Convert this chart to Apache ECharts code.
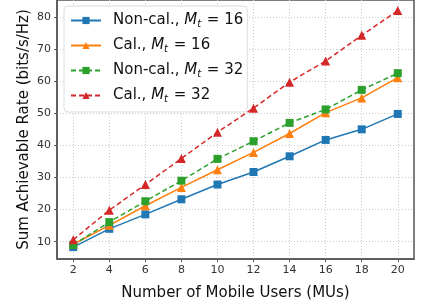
<!DOCTYPE html>
<html>
<head>
<meta charset="utf-8">
<title>Sum rate vs number of MUs</title>
<script src="https://cdn.jsdelivr.net/npm/echarts@6/dist/echarts.min.js"></script>
<style>
  html, body { margin: 0; padding: 0; background: #fff; }
  #main { width: 423px; height: 306px; }
</style>
</head>
<body>
<div id="main"></div>
<script>
// number of MUs
var users = [2, 4, 6, 8, 10, 12, 14, 16, 18, 20];
// sum achievable rate (bits/s/Hz)
var nonCal16 = [8.3, 14.0, 18.5, 23.2, 27.8, 31.7, 36.6, 41.7, 45.0, 49.8];
var cal16    = [9.2, 15.1, 21.2, 26.9, 32.4, 37.8, 43.7, 50.2, 54.8, 61.1];
var nonCal32 = [9.0, 16.1, 22.6, 29.0, 35.8, 41.3, 47.0, 51.2, 57.3, 62.5];
var cal32    = [10.6, 19.8, 27.8, 35.9, 44.1, 51.6, 59.7, 66.3, 74.3, 82.0];
var xTicks = [2, 4, 6, 8, 10, 12, 14, 16, 18, 20];
var yTicks = [10, 20, 30, 40, 50, 60, 70, 80];

var font = 'DejaVu Sans';
var myChart = echarts.init(document.getElementById('main'));

function pairs(vals) {
    var out = [];
    for (var i = 0; i < users.length; i++) {
        out.push([users[i], vals[i]]);
    }
    return out;
}

function mkSeries(name, vals, color, dashed, symbol) {
    return {
        name: name,
        type: 'line',
        data: pairs(vals),
        symbol: symbol,
        symbolSize: symbol === 'rect' ? 8 : 9,
        lineStyle: { color: color, width: 1.5, type: dashed ? [5, 3] : 'solid' },
        itemStyle: { color: color },
        animation: false
    };
}

var option = {
    backgroundColor: '#fff',
    grid: {
        left: 57, right: 9, top: 0, bottom: 41,
        show: true, borderColor: '#555', borderWidth: 1.5
    },
    legend: {
        orient: 'vertical',
        left: 64, top: 6,
        padding: [7, 4, 8, 6],
        itemWidth: 30, itemHeight: 9,
        itemGap: 9,
        backgroundColor: '#fff',
        borderColor: '#ddd', borderWidth: 1, borderRadius: 4,
        data: ['nc16', 'c16', 'nc32', 'c32'],
        formatter: function (name) {
            var map = {
                nc16: ['Non-cal., ', '16'],
                c16: ['Cal., ', '16'],
                nc32: ['Non-cal., ', '32'],
                c32: ['Cal., ', '32']
            };
            var p = map[name];
            return '{f|' + p[0] + '}{i|M}{s|t}{n| = ' + p[1] + '}';
        },
        textStyle: {
            fontFamily: font, fontSize: 15, color: '#111',
            rich: {
                f: { fontFamily: font, fontSize: 15, color: '#111', padding: [0, 0, 0, 7] },
                n: { fontFamily: font, fontSize: 15, color: '#111' },
                i: { fontFamily: font, fontSize: 15, fontStyle: 'italic', color: '#111' },
                s: { fontFamily: font, fontSize: 10, fontStyle: 'italic', color: '#111', verticalAlign: 'bottom', padding: [7, 1, 0, 0] }
            }
        }
    },
    xAxis: {
        type: 'value',
        min: 1.1, max: 20.9,
        name: 'Number of Mobile Users (MUs)',
        nameLocation: 'middle',
        nameGap: 27,
        nameMoveOverlap: false,
        nameTextStyle: { fontFamily: font, fontSize: 15, color: '#111' },
        axisLine: { show: true, lineStyle: { color: '#555', width: 1.5 } },
        axisTick: { show: true, length: 3, customValues: xTicks, lineStyle: { color: '#555' } },
        axisLabel: { customValues: xTicks, fontFamily: font, fontSize: 11, color: '#333', margin: 6 },
        splitLine: { show: true, lineStyle: { color: '#ccc', type: [1, 2], width: 1 } }
    },
    yAxis: {
        type: 'value',
        min: 4.6, max: 85.3,
        name: 'Sum Achievable Rate (bits/s/Hz)',
        nameLocation: 'middle',
        nameGap: 25,
        nameMoveOverlap: false,
        nameTextStyle: { fontFamily: font, fontSize: 15, color: '#111' },
        axisLine: { show: true, lineStyle: { color: '#555', width: 1.5 } },
        axisTick: { show: true, length: 3, customValues: yTicks, lineStyle: { color: '#555' } },
        axisLabel: { customValues: yTicks, fontFamily: font, fontSize: 11, color: '#333', margin: 6 },
        splitLine: { show: true, lineStyle: { color: '#ccc', type: [1, 2], width: 1 } }
    },
    series: [
        mkSeries('nc16', nonCal16, '#1f77b4', false, 'rect'),
        mkSeries('c16', cal16, '#ff7f0e', false, 'triangle'),
        mkSeries('nc32', nonCal32, '#2ca02c', true, 'rect'),
        mkSeries('c32', cal32, '#d62728', true, 'triangle')
    ]
};
myChart.setOption(option);
</script>
</body>
</html>
